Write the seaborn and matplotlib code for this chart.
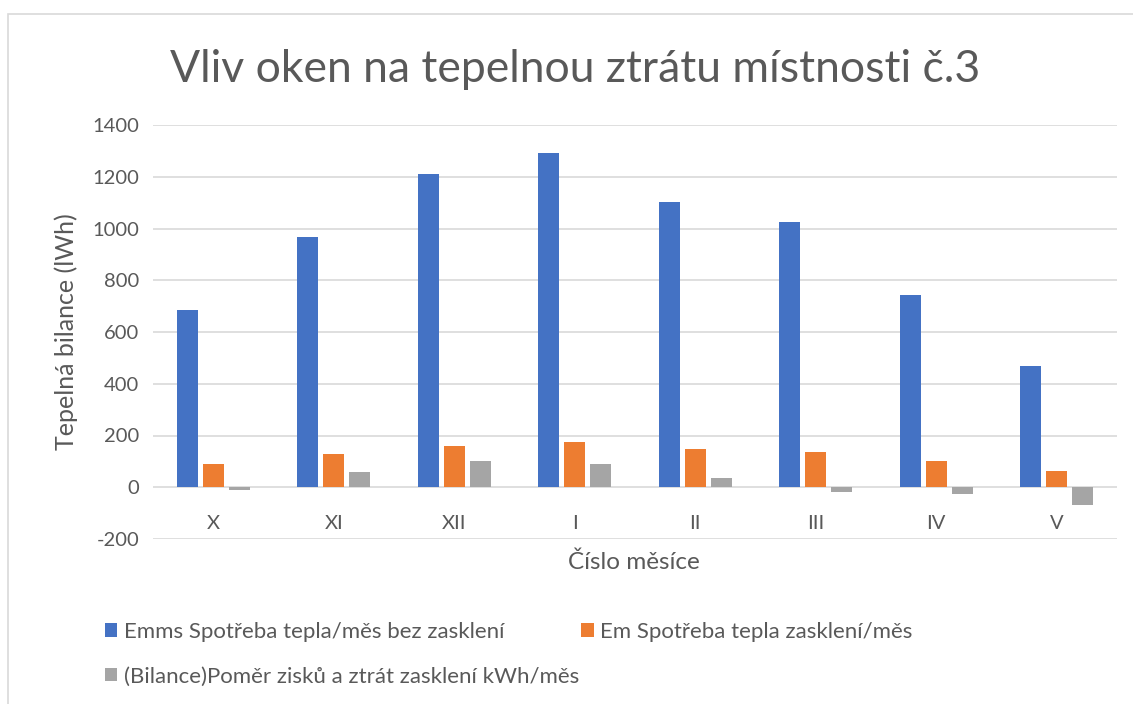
import matplotlib
matplotlib.use("Agg")
import matplotlib.pyplot as plt
import seaborn as sns
import pandas as pd
from matplotlib.patches import Rectangle, Patch

months = ["X", "XI", "XII", "I", "II", "III", "IV", "V"]
series_names = [
    "Emms Spotřeba tepla/měs bez zasklení",
    "Em Spotřeba tepla zasklení/měs",
    "(Bilance)Poměr zisků a ztrát zasklení kWh/měs",
]
emms = [685, 967, 1210, 1292, 1102, 1025, 742, 468]
em = [90, 129, 161, 174, 148, 138, 101, 61]
bilance = [-12, 58, 101, 88, 37, -17, -28, -67]
colors = ["#4472C4", "#ED7D31", "#A5A5A5"]

rows = []
for name, vals in zip(series_names, [emms, em, bilance]):
    for m, v in zip(months, vals):
        rows.append({"month": m, "series": name, "value": v})
df = pd.DataFrame(rows)

sns.set_theme(style="white")
plt.rcParams["font.family"] = ["Lato", "DejaVu Sans"]
plt.rcParams["axes.unicode_minus"] = False

W, H = 1133, 704
fig = plt.figure(figsize=(W / 100, H / 100), dpi=100)
ax = fig.add_axes([153 / W, 1 - 539 / H, (1117 - 153) / W, (539 - 125) / H])

sns.barplot(data=df, x="month", y="value", hue="series", order=months,
            hue_order=series_names, palette=colors, width=0.65, gap=0.2,
            linewidth=0, saturation=1, ax=ax, legend=False)

ax.set_ylim(-200, 1400)
ax.set_xlim(-0.5, 7.5)
ax.set_yticks(range(-200, 1401, 200))
ax.yaxis.grid(True, color="#D9D9D9", linewidth=1.2)
ax.set_axisbelow(True)
for s in ["top", "right", "left"]:
    ax.spines[s].set_visible(False)
ax.spines["bottom"].set_position(("data", 0))
ax.spines["bottom"].set_visible(False)
ax.tick_params(axis="both", length=0, labelsize=14.5, labelcolor="#595959")
ax.tick_params(axis="x", pad=20)
ax.tick_params(axis="y", pad=10)
ax.set_xlabel("")
ax.set_ylabel("Tepelná bilance (lWh)", fontsize=18, color="#595959", labelpad=10)

fig.text(634 / W, 1 - 562 / H, "Číslo měsíce", ha="center", va="center",
         fontsize=17.5, color="#595959")
fig.text(575 / W, 1 - 70 / H, "Vliv oken na tepelnou ztrátu místnosti č.3",
         ha="center", va="center", fontsize=32, color="#595959")

handles = [Patch(facecolor=c, edgecolor="none") for c in colors]
order = [0, 2, 1]
fig.legend([handles[i] for i in order], [series_names[i] for i in order],
           ncol=2, loc="upper left", bbox_to_anchor=(105 / W, 1 - 622 / H),
           frameon=False, fontsize=16.0, labelcolor="#595959", borderpad=0,
           borderaxespad=0,
           handlelength=0.55, handleheight=0.55, handletextpad=0.3,
           columnspacing=0.1, labelspacing=1.1)

fig.patches.append(Rectangle((8 / W, -0.1), 1.2, 1 - 14 / H + 0.1,
                             transform=fig.transFigure, fill=False,
                             edgecolor="#D9D9D9", linewidth=1.2))

fig.savefig("out.png", dpi=100)
